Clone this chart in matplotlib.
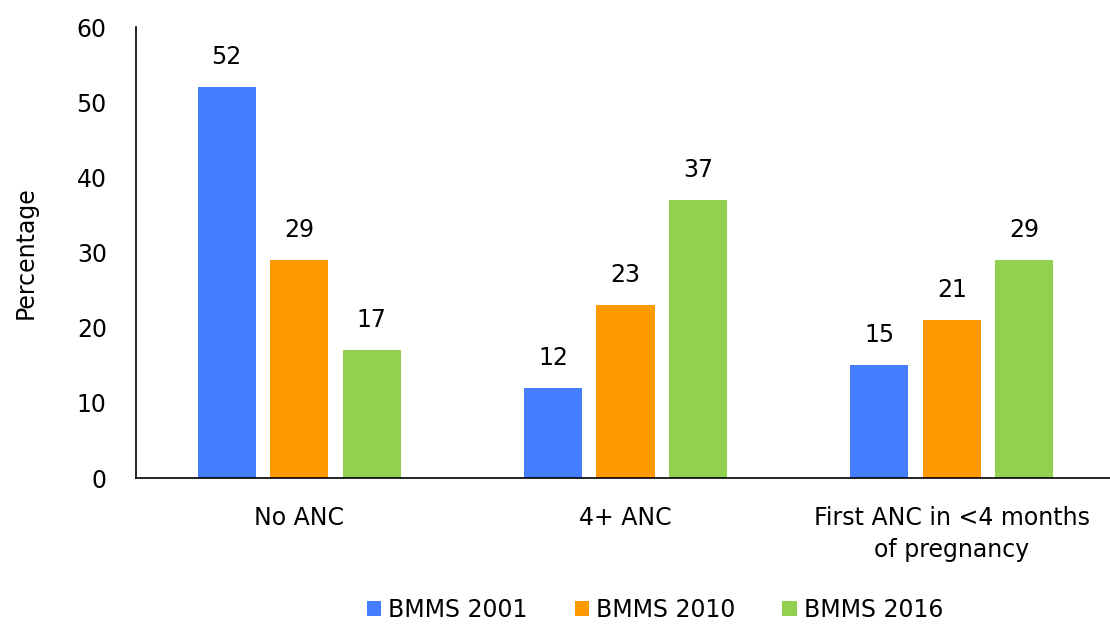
import numpy as np
import matplotlib.pyplot as plt

categories = ['No ANC', '4+ ANC', 'First ANC in <4 months\nof pregnancy']
series_names = ['BMMS 2001', 'BMMS 2010', 'BMMS 2016']
bmms_2001 = [52, 12, 15]
bmms_2010 = [29, 23, 21]
bmms_2016 = [17, 37, 29]
colors = ['#447DFF', '#FF9900', '#92D050']

plt.rcParams['font.family'] = ['DejaVu Sans']

fig = plt.figure(figsize=(11.1, 6.27), dpi=100)
ax = fig.add_axes([0.1225, 0.2376, 0.882, 0.7193])

x = np.arange(len(categories))
width = 0.178
step = 0.222
for i, (vals, name) in enumerate(zip([bmms_2001, bmms_2010, bmms_2016], series_names)):
    bars = ax.bar(x + (i - 1) * step, vals, width, color=colors[i], label=name)
    for b, v in zip(bars, vals):
        ax.text(b.get_x() + b.get_width() / 2, v + 4, str(v),
                ha='center', va='center', fontsize=17)

ax.set_xlim(-0.5, 2.5)
ax.set_ylim(0, 60)
ax.set_yticks(range(0, 61, 10))
ax.set_xticks(x)
ax.set_xticklabels(categories, fontsize=17, linespacing=1.45)
ax.tick_params(axis='y', labelsize=17, length=0, pad=21)
ax.tick_params(axis='x', length=0, pad=20)
ax.spines['top'].set_visible(False)
ax.spines['right'].set_visible(False)
ax.spines['left'].set_linewidth(1.2)
ax.spines['bottom'].set_linewidth(1.2)
ax.set_ylabel('Percentage', fontsize=17, labelpad=28)

fig.legend(loc='center', bbox_to_anchor=(0.59, 0.027), ncol=3, frameon=False,
           fontsize=17, handlelength=0.6, handleheight=0.6, handletextpad=0.3,
           columnspacing=2.0)

fig.savefig('out.png', dpi=100)
